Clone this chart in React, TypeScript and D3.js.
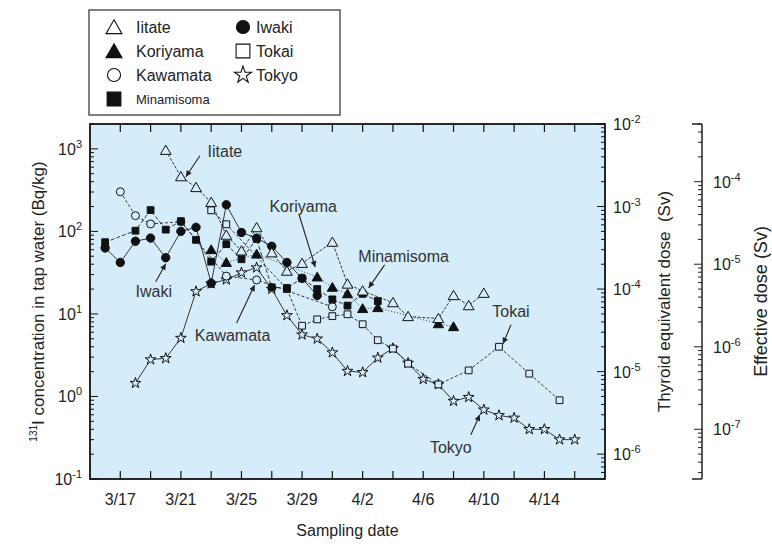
import React from "react";
import * as d3 from "d3";

const parseDay = d3.utcParse("%Y/%m/%d");
const toDate = (s: string) => parseDay("2011/" + s) as Date;

// 131I concentration in tap water (Bq/kg)
const iitate: [string, number][] = [
  ["3/20", 960], ["3/21", 460], ["3/22", 340], ["3/23", 225], ["3/24", 90], ["3/25", 58],
  ["3/26", 111], ["3/27", 55], ["3/28", 33], ["3/29", 41], ["3/31", 74], ["4/1", 23],
  ["4/2", 19], ["4/4", 13.7], ["4/5", 9.3], ["4/7", 8.8], ["4/8", 16.7], ["4/9", 12.6], ["4/10", 17.8],
];
const iwaki: [string, number][] = [
  ["3/16", 63], ["3/17", 42], ["3/18", 76], ["3/19", 83], ["3/20", 48], ["3/21", 100],
  ["3/22", 112], ["3/23", 23.5], ["3/24", 210], ["3/25", 97], ["3/26", 83], ["3/27", 66],
  ["3/28", 42], ["3/29", 27], ["3/30", 16.7],
];
const koriyama: [string, number][] = [
  ["3/23", 60], ["3/24", 42], ["3/26", 53], ["3/30", 28], ["3/31", 21], ["4/1", 17.5],
  ["4/2", 11.6], ["4/3", 11.9], ["4/7", 7.6], ["4/8", 7.0],
];
const kawamata: [string, number][] = [
  ["3/17", 302], ["3/18", 155], ["3/19", 123], ["3/21", 131], ["3/24", 28.7], ["3/26", 25.8], ["3/31", 12.2],
];
const minamisoma: [string, number][] = [
  ["3/16", 74], ["3/18", 102], ["3/19", 181], ["3/20", 105], ["3/21", 133], ["3/22", 79],
  ["3/23", 43], ["3/24", 70], ["3/25", 46], ["3/26", 81], ["3/27", 21], ["3/28", 20.6],
  ["3/29", 27], ["3/30", 20], ["3/31", 15], ["4/1", 12.6], ["4/2", 17.5], ["4/3", 14.3],
];
const tokai: [string, number][] = [
  ["3/23", 180], ["3/24", 122], ["3/28", 20], ["3/29", 7.2], ["3/30", 8.6], ["3/31", 9.4],
  ["4/1", 9.9], ["4/2", 7.5], ["4/3", 4.8], ["4/4", 3.8], ["4/5", 2.5], ["4/7", 1.4],
  ["4/9", 2.07], ["4/11", 4.0], ["4/13", 1.89], ["4/15", 0.9],
];
const tokyo: [string, number][] = [
  ["3/18", 1.45], ["3/19", 2.8], ["3/20", 2.9], ["3/21", 5.1], ["3/22", 18.7], ["3/23", 23.3],
  ["3/24", 26], ["3/25", 31.6], ["3/26", 36.4], ["3/27", 20], ["3/28", 9.6], ["3/29", 5.6],
  ["3/30", 5.0], ["3/31", 3.4], ["4/1", 2.03], ["4/2", 1.96], ["4/3", 2.94], ["4/4", 3.82],
  ["4/5", 2.54], ["4/6", 1.62], ["4/7", 1.4], ["4/8", 0.88], ["4/9", 0.98], ["4/10", 0.69],
  ["4/11", 0.59], ["4/12", 0.55], ["4/13", 0.4], ["4/14", 0.4], ["4/15", 0.3], ["4/16", 0.3],
];

const BG = "#d5edfa";
const FONT = "'Liberation Sans', Arial, Helvetica, sans-serif";

type Series = {
  name: string;
  data: [string, number][];
  symbol: d3.SymbolType;
  filled: boolean;
  dash: string | null;
  size: number;
};

const series: Series[] = [
  { name: "Tokyo", data: tokyo, symbol: d3.symbolStar, filled: false, dash: null, size: 36 },
  { name: "Tokai", data: tokai, symbol: d3.symbolSquare, filled: false, dash: "3,2", size: 46 },
  { name: "Kawamata", data: kawamata, symbol: d3.symbolCircle, filled: false, dash: "3,2", size: 50 },
  { name: "Koriyama", data: koriyama, symbol: d3.symbolTriangle, filled: true, dash: "1,2", size: 45 },
  { name: "Minamisoma", data: minamisoma, symbol: d3.symbolSquare, filled: true, dash: "4,2", size: 46 },
  { name: "Iwaki", data: iwaki, symbol: d3.symbolCircle, filled: true, dash: null, size: 55 },
  { name: "Iitate", data: iitate, symbol: d3.symbolTriangle, filled: false, dash: "3,1.5", size: 50 },
];

// legend layout: [name, column, row]
const legendItems: [string, number, number][] = [
  ["Iitate", 0, 0], ["Koriyama", 0, 1], ["Kawamata", 0, 2], ["Minamisoma", 0, 3],
  ["Iwaki", 1, 0], ["Tokai", 1, 1], ["Tokyo", 1, 2],
];

// annotations: label, series, date pointed at, tip offset, tail offset, text offset
const notes: { text: string; ser: string; date: string; tip: number[]; tail: number[]; txt: number[] }[] = [
  { text: "Iitate", ser: "Iitate", date: "3/21", tip: [5, 0], tail: [19, -21], txt: [44, -20] },
  { text: "Iwaki", ser: "Iwaki", date: "3/20", tip: [0, 6], tail: [-10, 24], txt: [-12, 39] },
  { text: "Kawamata", ser: "Kawamata", date: "3/26", tip: [-2, 5], tail: [-20, 43], txt: [-24, 61] },
  { text: "Koriyama", ser: "Koriyama", date: "3/30", tip: [-2, -10], tail: [-18, -62], txt: [-14, -65] },
  { text: "Minamisoma", ser: "Minamisoma", date: "4/2", tip: [6, -6], tail: [22, -29], txt: [41, -32] },
  { text: "Tokai", ser: "Tokai", date: "4/11", tip: [4, -3], tail: [12, -22], txt: [12, -30] },
  { text: "Tokyo", ser: "Tokyo", date: "4/10", tip: [-4, 5], tail: [-13, 25], txt: [-33, 43] },
];

const L = 90, R = 605, T = 124, B = 479;

const x = d3.scaleUtc().domain([toDate("3/15"), toDate("4/18")]).range([L, R]);
const y = d3.scaleLog().domain([0.1, 2000]).range([B, T]);
const yThy = d3.scaleLog().domain([5e-7, 1e-2]).range([B, T]);
const yEff = d3.scaleLog().domain([2.5e-8, 5e-4]).range([B, T]);

const isDecade = (v: number) => Math.abs(Math.log10(v) - Math.round(Math.log10(v))) < 1e-6;
const fmtDay = d3.utcFormat("%-m/%-d");

function Pow({ v, ...rest }: any) {
  const e = Math.round(Math.log10(v));
  return (
    <text {...rest}>
      10<tspan dy={-7} fontSize={11}>{e < 0 ? "-" + -e : e}</tspan>
    </text>
  );
}

export default function App() {
  const line = d3.line<[string, number]>().x((d) => x(toDate(d[0]))).y((d) => y(d[1]));
  const xTicks = d3.utcDay.range(toDate("3/17"), toDate("4/17"), 2);
  const yTicks = y.ticks().filter((v) => v >= 0.1 && v <= 2000);
  const thyTicks = yThy.ticks().filter((v) => v >= 5e-7 && v <= 1e-2);
  const effTicks = yEff.ticks().filter((v) => v >= 2.5e-8 && v <= 5e-4);
  const byName = new Map(series.map((s) => [s.name, s]));
  const sym = (s: Series, size: number) => d3.symbol().type(s.symbol).size(size)() as string;

  return (
    <svg width={772} height={552} style={{ position: "absolute", left: 0, top: 0, background: "#fff" }} fontFamily={FONT}>
      <defs>
        <marker id="ah" viewBox="0 0 10 10" refX="10" refY="5" markerWidth="8" markerHeight="6" orient="auto" markerUnits="userSpaceOnUse">
          <path d="M0,0 L10,5 L0,10 z" fill="#222" />
        </marker>
      </defs>

      {/* legend */}
      <rect x={89} y={10} width={251} height={105} fill="#fff" stroke="#555" strokeWidth={1.5} />
      {legendItems.map(([name, col, row]) => {
        const s = byName.get(name)!;
        const cx = col === 0 ? 114 : 243;
        const cy = 27 + row * 24;
        const big = s.symbol === d3.symbolStar ? 90 : s.symbol === d3.symbolSquare ? 190 : s.symbol === d3.symbolTriangle ? 110 : 135;
        return (
          <g key={name}>
            <path d={sym(s, big)} transform={`translate(${cx},${cy + (s.symbol === d3.symbolTriangle ? 2 : 0)})`}
              fill={s.filled ? "#111" : "#fff"} stroke="#111" strokeWidth={1.1} />
            <text x={col === 0 ? 136 : 256} y={cy} dy="0.36em" fontSize={name === "Minamisoma" ? 13 : 16} fill="#222">{name}</text>
          </g>
        );
      })}

      {/* plot area */}
      <rect x={L} y={T} width={R - L} height={B - T} fill={BG} />

      {series.map((s) => (
        <path key={"l" + s.name} d={line(s.data) as string} fill="none" stroke="#222" strokeWidth={0.9}
          strokeDasharray={s.dash ?? undefined} />
      ))}
      {series.map((s) =>
        s.data.map((d) => (
          <path key={s.name + d[0]} d={sym(s, s.size)}
            transform={`translate(${x(toDate(d[0]))},${y(d[1]) + (s.symbol === d3.symbolTriangle ? 1 : 0)})`}
            fill={s.filled ? "#111" : BG} stroke="#111" strokeWidth={1} />
        ))
      )}

      {/* annotations */}
      {notes.map((n) => {
        const s = byName.get(n.ser)!;
        const d = s.data.find((p) => p[0] === n.date)!;
        const px = x(toDate(d[0])), py = y(d[1]);
        return (
          <g key={"n" + n.text}>
            <line x1={px + n.tail[0]} y1={py + n.tail[1]} x2={px + n.tip[0]} y2={py + n.tip[1]}
              stroke="#222" strokeWidth={1.1} markerEnd="url(#ah)" />
            <text x={px + n.txt[0]} y={py + n.txt[1]} textAnchor="middle" fontSize={16} fill="#333">{n.text}</text>
          </g>
        );
      })}

      {/* frame */}
      <rect x={L} y={T} width={R - L} height={B - T} fill="none" stroke="#111" strokeWidth={1.8} />

      {/* x ticks top and bottom */}
      {xTicks.map((t, i) => (
        <g key={"x" + i}>
          <line x1={x(t)} x2={x(t)} y1={B} y2={B - 8} stroke="#111" strokeWidth={1.2} />
          <line x1={x(t)} x2={x(t)} y1={T} y2={T + 8} stroke="#111" strokeWidth={1.2} />
          {i % 2 === 0 && (
            <text x={x(t)} y={B + 26} textAnchor="middle" fontSize={16} fill="#222">{fmtDay(t)}</text>
          )}
        </g>
      ))}

      {/* left axis */}
      {yTicks.map((v) => (
        <g key={"y" + v}>
          <line x1={L} x2={L + (isDecade(v) ? 8 : 4)} y1={y(v)} y2={y(v)} stroke="#111" strokeWidth={1} />
          {isDecade(v) && <Pow v={v} x={82} y={y(v) + 6} textAnchor="end" fontSize={16} fill="#222" />}
        </g>
      ))}

      {/* thyroid axis */}
      {thyTicks.map((v) => (
        <g key={"t" + v}>
          <line x1={R} x2={R - (isDecade(v) ? 8 : 4)} y1={yThy(v)} y2={yThy(v)} stroke="#111" strokeWidth={1} />
          {isDecade(v) && <Pow v={v} x={613} y={yThy(v) + 6} fontSize={16} fill="#222" />}
        </g>
      ))}

      {/* effective dose axis */}
      <line x1={702} x2={702} y1={T} y2={B} stroke="#222" strokeWidth={1.5} />
      <line x1={692} x2={702} y1={T} y2={T} stroke="#222" strokeWidth={1.5} />
      <line x1={692} x2={702} y1={B} y2={B} stroke="#222" strokeWidth={1.5} />
      {effTicks.map((v) => (
        <g key={"e" + v}>
          <line x1={702} x2={702 - (isDecade(v) ? 8 : 4)} y1={yEff(v)} y2={yEff(v)} stroke="#222" strokeWidth={1} />
          {isDecade(v) && <Pow v={v} x={713} y={yEff(v) + 6} fontSize={16} fill="#222" />}
        </g>
      ))}

      {/* axis titles */}
      <text x={(L + R) / 2} y={536} textAnchor="middle" fontSize={16} fill="#222">Sampling date</text>
      <text transform={`translate(44,${(T + B) / 2}) rotate(-90)`} textAnchor="middle" fontSize={17} fill="#222">
        <tspan fontSize={10} dy={-7}>131</tspan>
        <tspan dy={7}>I concentration in tap water (Bq/kg)</tspan>
      </text>
      <text transform={`translate(670,${(T + B) / 2}) rotate(-90)`} textAnchor="middle" fontSize={17} fill="#222">
        Thyroid equivalent dose{"\u00a0\u00a0"}(Sv)
      </text>
      <text transform={`translate(767,${(T + B) / 2}) rotate(-90)`} textAnchor="middle" fontSize={18} fill="#222">
        Effective dose (Sv)
      </text>
    </svg>
  );
}
